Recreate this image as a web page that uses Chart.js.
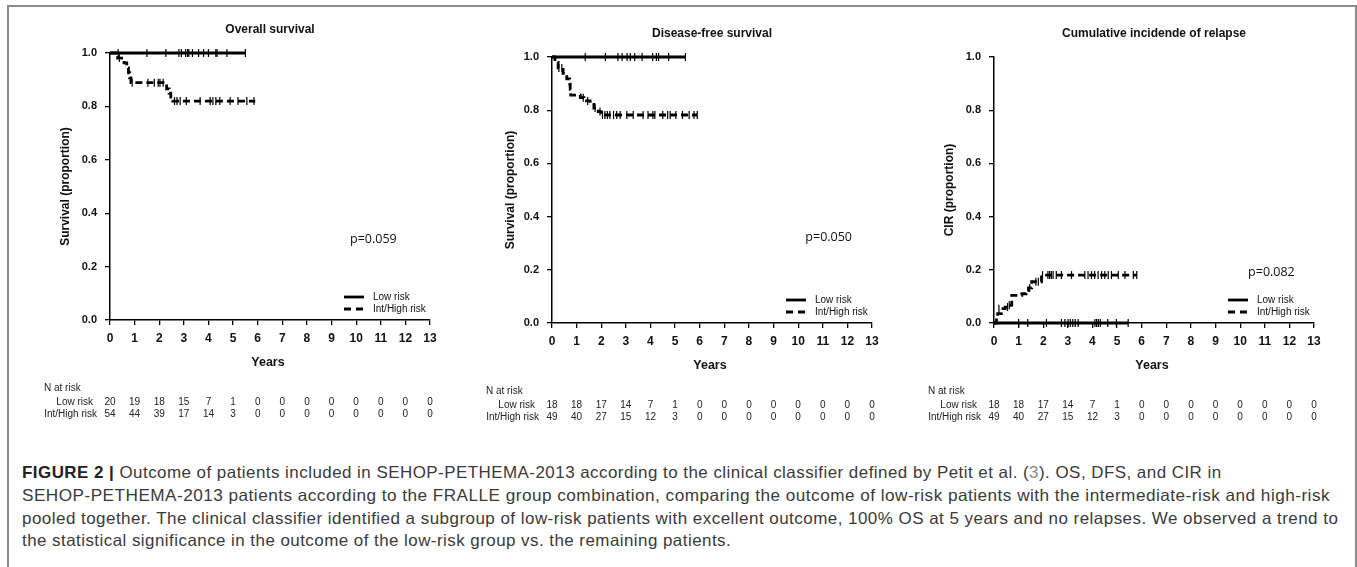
<!DOCTYPE html>
<html>
<head>
<meta charset="utf-8">
<script src="https://cdn.jsdelivr.net/npm/chart.js@4.4.1/dist/chart.umd.min.js"></script>
<style>
  body { margin: 0; background: #fff; width: 1357px; height: 567px; overflow: hidden; position: relative; font-family: Arial, 'Liberation Sans', sans-serif; }
  .frame { position: absolute; left: 7px; top: 5px; width: 1346px; height: 620px; border: 2px solid #8c8c8c; }
  .panel { position: absolute; top: 0; width: 440px; height: 440px; }
  .caption { position: absolute; left: 22px; top: 461px; font-size: 16.5px; letter-spacing: 0.45px; line-height: 22.8px; color: #3a3a3a; font-family: 'Liberation Sans', Arial, sans-serif; }
  .caption span.line { display: inline-block; white-space: nowrap; transform-origin: 0 50%; }
  .caption .ref { color: #8a8a8a; }
</style>
</head>
<body>
<div class="frame"></div>
<div class="panel" style="left:10px"><canvas id="os" width="440" height="440"></canvas></div>
<div class="panel" style="left:452px"><canvas id="dfs" width="440" height="440"></canvas></div>
<div class="panel" style="left:894px"><canvas id="cir" width="440" height="440"></canvas></div>
<div class="caption">
  <div><span class="line"><b style="color:#222">FIGURE 2 |</b> Outcome of patients included in SEHOP-PETHEMA-2013 according to the clinical classifier defined by Petit et al. (<span class="ref">3</span>). OS, DFS, and CIR in</span></div>
  <div><span class="line">SEHOP-PETHEMA-2013 patients according to the FRALLE group combination, comparing the outcome of low-risk patients with the intermediate-risk and high-risk</span></div>
  <div><span class="line">pooled together. The clinical classifier identified a subgroup of low-risk patients with excellent outcome, 100% OS at 5 years and no relapses. We observed a trend to</span></div>
  <div><span class="line">the statistical significance in the outcome of the low-risk group vs. the remaining patients.</span></div>
</div>
<script>
// years on the x axis (also the columns of the N at risk table)
const years = [0, 1, 2, 3, 4, 5, 6, 7, 8, 9, 10, 11, 12, 13];

// Overall survival: [time in years, proportion]
const osLowSteps = [[0, 1], [5.5, 1]];
const osLowCensor = [[0.33, 1], [1.5, 1], [2.27, 1], [2.8, 1], [2.9, 1], [3.07, 1], [3.15, 1], [3.2, 1], [3.35, 1], [3.6, 1], [3.8, 1], [4.0, 1], [4.3, 1], [4.35, 1], [4.75, 1], [5.5, 1]];
const osHighSteps = [[0, 1], [0.31, 0.981], [0.57, 0.963], [0.68, 0.944], [0.75, 0.926], [0.8, 0.907], [0.85, 0.889], [2.3, 0.866], [2.4, 0.85], [2.47, 0.835], [2.55, 0.82], [5.9, 0.82]];
const osHighCensor = [[0.38, 0.981], [0.9, 0.889], [1.54, 0.889], [1.8, 0.889], [1.96, 0.889], [2.03, 0.889], [2.16, 0.889], [2.62, 0.82], [2.72, 0.82], [2.85, 0.82], [3.1, 0.82], [3.66, 0.82], [4.07, 0.82], [4.18, 0.82], [4.3, 0.82], [4.46, 0.82], [4.88, 0.82], [5.2, 0.82], [5.56, 0.82], [5.85, 0.82]];
const osLowRisk = [20, 19, 18, 15, 7, 1, 0, 0, 0, 0, 0, 0, 0, 0];
const osHighRisk = [54, 44, 39, 17, 14, 3, 0, 0, 0, 0, 0, 0, 0, 0];

// Disease-free survival
const dfsLowSteps = [[0, 1], [5.42, 1]];
const dfsLowCensor = [[1.35, 1], [2.17, 1], [2.68, 1], [2.85, 1], [3.05, 1], [3.18, 1], [3.36, 1], [3.66, 1], [4.09, 1], [4.24, 1], [4.33, 1], [4.74, 1], [5.42, 1]];
const dfsHighSteps = [[0, 1], [0.12, 0.98], [0.25, 0.959], [0.45, 0.939], [0.6, 0.918], [0.72, 0.898], [0.74, 0.878], [0.76, 0.857], [1.15, 0.847], [1.3, 0.835], [1.55, 0.822], [1.7, 0.808], [1.88, 0.795], [2.0, 0.782], [5.9, 0.782]];
const dfsHighCensor = [[0.28, 0.959], [0.4, 0.959], [1.27, 0.847], [1.45, 0.835], [1.75, 0.808], [1.95, 0.795], [2.05, 0.782], [2.15, 0.782], [2.25, 0.782], [2.35, 0.782], [2.5, 0.782], [2.63, 0.782], [2.77, 0.782], [3.04, 0.782], [3.3, 0.782], [3.7, 0.782], [3.9, 0.782], [4.1, 0.782], [4.18, 0.782], [4.5, 0.782], [4.7, 0.782], [4.8, 0.782], [5.03, 0.782], [5.3, 0.782], [5.57, 0.782], [5.77, 0.782], [5.9, 0.782]];
const dfsLowRisk = [18, 18, 17, 14, 7, 1, 0, 0, 0, 0, 0, 0, 0, 0];
const dfsHighRisk = [49, 40, 27, 15, 12, 3, 0, 0, 0, 0, 0, 0, 0, 0];

// Cumulative incidence of relapse
const cirLowSteps = [[0, 0], [5.45, 0]];
const cirLowCensor = [[1.0, 0], [1.37, 0], [2.13, 0], [2.74, 0], [2.88, 0], [3.01, 0], [3.1, 0], [3.2, 0], [3.3, 0], [3.42, 0], [4.1, 0], [4.17, 0], [4.24, 0], [4.32, 0], [4.62, 0], [4.97, 0], [5.45, 0]];
const cirHighSteps = [[0, 0], [0.1, 0.023], [0.15, 0.035], [0.3, 0.054], [0.45, 0.06], [0.68, 0.067], [0.72, 0.104], [1.13, 0.11], [1.3, 0.123], [1.4, 0.132], [1.53, 0.155], [1.93, 0.18], [5.8, 0.18]];
const cirHighCensor = [[0.2, 0.054], [0.55, 0.06], [0.62, 0.067], [1.45, 0.132], [1.7, 0.155], [1.8, 0.155], [1.97, 0.18], [2.19, 0.18], [2.26, 0.18], [2.33, 0.18], [2.4, 0.18], [2.53, 0.18], [2.74, 0.18], [3.15, 0.18], [3.69, 0.18], [3.82, 0.18], [3.96, 0.18], [4.09, 0.18], [4.23, 0.18], [4.37, 0.18], [4.5, 0.18], [4.64, 0.18], [4.77, 0.18], [5.05, 0.18], [5.32, 0.18], [5.66, 0.18], [5.8, 0.18]];
const cirLowRisk = [18, 18, 17, 14, 7, 1, 0, 0, 0, 0, 0, 0, 0, 0];
const cirHighRisk = [49, 40, 27, 15, 12, 3, 0, 0, 0, 0, 0, 0, 0, 0];

const FONT = 'Arial, "Liberation Sans", sans-serif';

function pts(pairs) {
  return pairs.map(p => ({ x: p[0], y: p[1] }));
}

// titles, p value, legend and N at risk table
const kmText = {
  id: 'kmText',
  afterDraw(chart, args, o) {
    const { ctx, chartArea: a } = chart;
    const x = chart.scales.x, y = chart.scales.y;
    const cx = (a.left + a.right) / 2;
    ctx.save();
    ctx.fillStyle = '#111';
    ctx.textBaseline = 'middle';
    ctx.textAlign = 'center';
    ctx.font = 'bold 12px ' + FONT;
    ctx.fillText(o.title, cx, a.top - 23.5);
    ctx.font = 'bold 12.5px ' + FONT;
    ctx.fillText('Years', cx - 2, a.bottom + 43);
    ctx.font = 'bold 12px ' + FONT;
    ctx.save();
    ctx.translate(a.left - o.yTitleOffset, (a.top + a.bottom) / 2);
    ctx.rotate(-Math.PI / 2);
    ctx.fillText(o.yTitle, 0, 0);
    ctx.restore();

    ctx.font = '12.5px "Open Sans", sans-serif';
    ctx.fillText(o.pValue, x.getPixelForValue(o.pAt[0]), y.getPixelForValue(o.pAt[1]));

    // legend
    ctx.strokeStyle = '#000';
    ctx.lineWidth = 2.8;
    ctx.beginPath();
    ctx.moveTo(a.left + 234, a.bottom - 23);
    ctx.lineTo(a.left + 254, a.bottom - 23);
    ctx.stroke();
    ctx.setLineDash([7, 5]);
    ctx.beginPath();
    ctx.moveTo(a.left + 234, a.bottom - 11);
    ctx.lineTo(a.left + 254, a.bottom - 11);
    ctx.stroke();
    ctx.setLineDash([]);
    ctx.font = '10px ' + FONT;
    ctx.textAlign = 'left';
    ctx.fillText('Low risk', a.left + 263, a.bottom - 23);
    ctx.fillText('Int/High risk', a.left + 263, a.bottom - 11);

    // N at risk
    ctx.fillStyle = '#222';
    ctx.fillText('N at risk', a.left - 66, a.bottom + 68);
    ctx.textAlign = 'right';
    ctx.fillText('Low risk', a.left - 17, a.bottom + 82);
    ctx.fillText('Int/High risk', a.left - 13, a.bottom + 94);
    ctx.textAlign = 'center';
    years.forEach((yr, i) => {
      const px = x.getPixelForValue(yr);
      ctx.fillText(String(o.lowRisk[i]), px, a.bottom + 82);
      ctx.fillText(String(o.highRisk[i]), px, a.bottom + 94);
    });
    ctx.restore();
  }
};

function makeChart(id, p) {
  const censorStyle = {
    showLine: false, pointStyle: 'line', pointRotation: 90, pointRadius: 4,
    pointBorderColor: '#000', pointBorderWidth: 1.2, borderColor: '#000', clip: false
  };
  return new Chart(document.getElementById(id), {
    type: 'line',
    data: {
      datasets: [
        { data: pts(p.lowSteps), borderColor: '#000', borderWidth: 2.8, stepped: true, pointRadius: 0, clip: false },
        { data: pts(p.highSteps), borderColor: '#000', borderWidth: 2.8, borderDash: [7, 4], stepped: true, pointRadius: 0, clip: false },
        Object.assign({ data: pts(p.lowCensor) }, censorStyle),
        Object.assign({ data: pts(p.highCensor) }, censorStyle)
      ]
    },
    options: {
      responsive: false,
      animation: false,
      events: [],
      layout: { padding: { left: 0, top: p.top, right: 20, bottom: 0 } },
      plugins: {
        legend: { display: false },
        tooltip: { enabled: false },
        kmText: p.text
      },
      scales: {
        x: {
          type: 'linear', min: 0, max: 13,
          afterFit: s => { s.height = 440 - p.bottom; },
          ticks: { stepSize: 1, padding: 6, color: '#111', maxRotation: 0, font: { family: FONT, size: 12, weight: 'bold' } },
          grid: { drawOnChartArea: false, tickLength: 5, color: '#000', lineWidth: 1.3 },
          border: { color: '#000', width: 1.5 }
        },
        y: {
          min: 0, max: 1,
          afterFit: s => { s.width = 100; },
          ticks: { stepSize: 0.2, padding: 8, color: '#111', font: { family: FONT, size: 11, weight: 'bold' }, callback: v => v.toFixed(1) },
          grid: { drawOnChartArea: false, tickLength: 5, color: '#000', lineWidth: 1.3 },
          border: { color: '#000', width: 1.5 }
        }
      }
    },
    plugins: [kmText]
  });
}

makeChart('os', {
  top: 53, bottom: 320,
  lowSteps: osLowSteps, lowCensor: osLowCensor, highSteps: osHighSteps, highCensor: osHighCensor,
  text: { title: 'Overall survival', yTitle: 'Survival (proportion)', yTitleOffset: 44, pValue: 'p=0.059', pAt: [10.7, 0.302], lowRisk: osLowRisk, highRisk: osHighRisk }
});
makeChart('dfs', {
  top: 57, bottom: 323,
  lowSteps: dfsLowSteps, lowCensor: dfsLowCensor, highSteps: dfsHighSteps, highCensor: dfsHighCensor,
  text: { title: 'Disease-free survival', yTitle: 'Survival (proportion)', yTitleOffset: 41, pValue: 'p=0.050', pAt: [11.24, 0.32], lowRisk: dfsLowRisk, highRisk: dfsHighRisk }
});
makeChart('cir', {
  top: 57, bottom: 323,
  lowSteps: cirLowSteps, lowCensor: cirLowCensor, highSteps: cirHighSteps, highCensor: cirHighCensor,
  text: { title: 'Cumulative incidende of relapse', yTitle: 'CIR (proportion)', yTitleOffset: 44, pValue: 'p=0.082', pAt: [11.27, 0.19], lowRisk: cirLowRisk, highRisk: cirHighRisk }
});

// caption lines stretched to the widths they have in the figure
const captionWidths = [1200, 1308, 1316, 709];
document.querySelectorAll('.caption span.line').forEach((el, i) => {
  el.style.transform = 'scaleX(' + (captionWidths[i] / el.offsetWidth).toFixed(4) + ')';
});
</script>
</body>
</html>
